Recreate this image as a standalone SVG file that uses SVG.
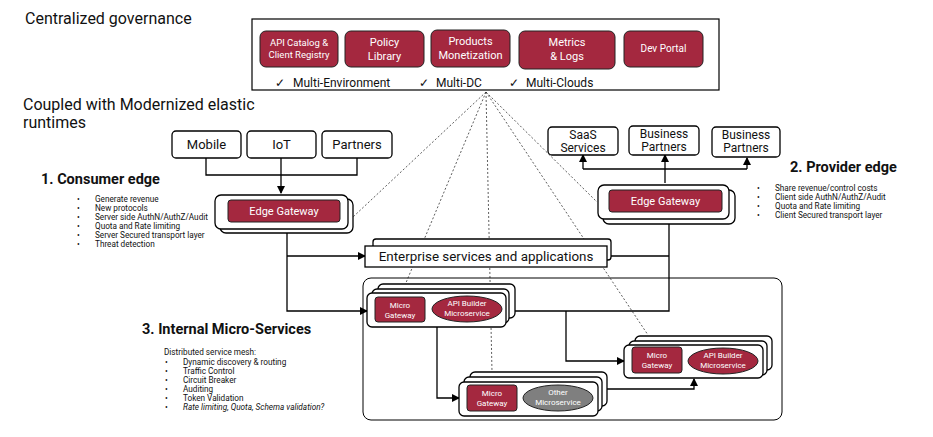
<svg xmlns="http://www.w3.org/2000/svg" width="933" height="437" viewBox="0 0 933 437">
<defs>
<marker id="ah" markerWidth="8" markerHeight="8" refX="7" refY="4" orient="auto" markerUnits="userSpaceOnUse">
<path d="M0,0 L8,4 L0,8 Z" fill="#000"/>
</marker>
<style>
text{font-family:Roboto,"Liberation Sans",sans-serif;}
.red{fill:#A4283F;stroke:#222;stroke-width:1;}
.wb{fill:#fff;stroke:#000;stroke-width:1.3;}
.wt{fill:#fff;}
.ln{fill:none;stroke:#000;stroke-width:1.3;}
.dash{fill:none;stroke:#333;stroke-width:0.8;stroke-dasharray:2,2;}
.h1{font-size:16px;fill:#111;}
.h2{font-size:14.5px;font-weight:bold;fill:#111;}
.sm text{font-size:8.2px;fill:#111;}
.ck{font-size:12px;fill:#111;}
</style>
</defs>
<rect width="933" height="437" fill="#fff"/>

<!-- headings -->
<text class="h1" x="25" y="24">Centralized governance</text>
<text class="h1" x="23" y="110">Coupled with Modernized elastic</text>
<text class="h1" x="23" y="128">runtimes</text>

<!-- dashed lines (behind) -->
<g id="dashed">
<line class="dash" x1="486" y1="92" x2="353" y2="217"/>
<line class="dash" x1="486" y1="92" x2="400" y2="297"/>
<line class="dash" x1="486" y1="92" x2="492" y2="372"/>
<line class="dash" x1="486" y1="92" x2="648" y2="335"/>
<line class="dash" x1="486" y1="92" x2="597" y2="202"/>
</g>

<!-- governance -->
<g id="governance">
<rect x="252" y="19" width="467" height="71" fill="#fff" stroke="#000" stroke-width="1.2"/>
<g id="api-catalog"><rect class="red" x="260" y="31" width="78" height="36" rx="6"/>
<text class="wt" x="299" y="46" font-size="9.5" text-anchor="middle">API Catalog &amp;</text>
<text class="wt" x="299" y="58" font-size="9.5" text-anchor="middle">Client Registry</text></g>
<g id="policy-library"><rect class="red" x="345" y="31" width="79" height="36" rx="6"/>
<text class="wt" x="384.5" y="46" font-size="11" text-anchor="middle">Policy</text>
<text class="wt" x="384.5" y="60" font-size="11" text-anchor="middle">Library</text></g>
<g id="products"><rect class="red" x="431" y="30" width="79" height="37" rx="6"/>
<text class="wt" x="470.5" y="45" font-size="11" text-anchor="middle">Products</text>
<text class="wt" x="470.5" y="59" font-size="11" text-anchor="middle">Monetization</text></g>
<g id="metrics"><rect class="red" x="519" y="31" width="96" height="38" rx="6"/>
<text class="wt" x="567" y="46" font-size="11" text-anchor="middle">Metrics</text>
<text class="wt" x="567" y="60" font-size="11" text-anchor="middle">&amp; Logs</text></g>
<g id="dev-portal"><rect class="red" x="624" y="31" width="79" height="36" rx="6"/>
<text class="wt" x="663.5" y="52" font-size="10" text-anchor="middle">Dev Portal</text></g>
<text class="ck" x="275" y="87">✓</text><text class="ck" x="293" y="87">Multi-Environment</text>
<text class="ck" x="419" y="87">✓</text><text class="ck" x="436" y="87">Multi-DC</text>
<text class="ck" x="509" y="87">✓</text><text class="ck" x="526" y="87">Multi-Clouds</text>
</g>

<!-- connectors -->
<g id="connectors">
<path class="ln" d="M206,158 V175 H357 V158"/>
<path class="ln" d="M281,158 V193" marker-end="url(#ah)"/>
<path class="ln" d="M287,233 V311 H367" marker-end="url(#ah)"/>
<path class="ln" d="M287,256 H365" marker-end="url(#ah)"/>
<path class="ln" d="M611,256 H669"/>
<path class="ln" d="M669,223 V311 H513"/>
<path class="ln" d="M665,183 V155" marker-end="url(#ah)"/>
<path class="ln" d="M583,169 H747"/>
<path class="ln" d="M583,169 V155" marker-end="url(#ah)"/>
<path class="ln" d="M747,169 V158" marker-end="url(#ah)"/>
<path class="ln" d="M566,311 V361 H624" marker-end="url(#ah)"/>
<path class="ln" d="M437,327 V398 H459" marker-end="url(#ah)"/>
<path class="ln" d="M607,389 H694 V379" marker-end="url(#ah)"/>
</g>

<!-- consumer side -->
<g id="mobile"><rect class="wb" x="172" y="131" width="69" height="27" rx="4"/>
<text x="206.5" y="149" font-size="13" text-anchor="middle" fill="#111">Mobile</text></g>
<g id="iot"><rect class="wb" x="247" y="131" width="69" height="27" rx="4"/>
<text x="281.5" y="149" font-size="13" text-anchor="middle" fill="#111">IoT</text></g>
<g id="partners"><rect class="wb" x="322" y="131" width="70" height="27" rx="4"/>
<text x="357" y="149" font-size="13" text-anchor="middle" fill="#111">Partners</text></g>

<g id="consumer-gateway">
<rect class="wb" x="220" y="199" width="133" height="34" rx="6"/>
<rect class="wb" x="215" y="195" width="133" height="34" rx="6"/>
<rect class="red" x="228" y="200" width="112" height="22" rx="3"/>
<text class="wt" x="284" y="215" font-size="11" text-anchor="middle">Edge Gateway</text>
</g>

<g id="consumer-text">
<text class="h2" x="41" y="184">1. Consumer edge</text>
<g class="sm">
<text x="77" y="202">•</text><text x="95" y="202">Generate revenue</text>
<text x="77" y="211">•</text><text x="95" y="211">New protocols</text>
<text x="77" y="220">•</text><text x="95" y="220">Server side AuthN/AuthZ/Audit</text>
<text x="77" y="229">•</text><text x="95" y="229">Quota and Rate limiting</text>
<text x="77" y="238">•</text><text x="95" y="238">Server Secured transport layer</text>
<text x="77" y="247">•</text><text x="95" y="247">Threat detection</text>
</g>
</g>

<!-- provider side -->
<g id="saas"><rect class="wb" x="548" y="127" width="70" height="28" rx="4"/>
<text x="583" y="139" font-size="12" text-anchor="middle" fill="#111">SaaS</text>
<text x="583" y="152" font-size="12" text-anchor="middle" fill="#111">Services</text></g>
<g id="business-partners-1"><rect class="wb" x="629" y="126" width="70" height="29" rx="4"/>
<text x="664" y="138" font-size="12" text-anchor="middle" fill="#111">Business</text>
<text x="664" y="151" font-size="12" text-anchor="middle" fill="#111">Partners</text></g>
<g id="business-partners-2"><rect class="wb" x="712" y="127" width="68" height="30" rx="4"/>
<text x="746" y="139" font-size="12" text-anchor="middle" fill="#111">Business</text>
<text x="746" y="152" font-size="12" text-anchor="middle" fill="#111">Partners</text></g>

<g id="provider-gateway">
<rect class="wb" x="603" y="190" width="132" height="34" rx="6"/>
<rect class="wb" x="598" y="185" width="131" height="34" rx="6"/>
<rect class="red" x="609" y="190" width="113" height="22" rx="3"/>
<text class="wt" x="665.5" y="205" font-size="11" text-anchor="middle">Edge Gateway</text>
</g>

<g id="provider-text">
<text class="h2" x="790" y="172">2. Provider edge</text>
<g class="sm">
<text x="757" y="191">•</text><text x="775" y="191">Share revenue/control costs</text>
<text x="757" y="200">•</text><text x="775" y="200">Client side AuthN/AuthZ/Audit</text>
<text x="757" y="209">•</text><text x="775" y="209">Quota and Rate limiting</text>
<text x="757" y="218">•</text><text x="775" y="218">Client Secured transport layer</text>
</g>
</g>

<!-- enterprise -->
<g id="enterprise">
<rect class="wb" x="373" y="239" width="238" height="21" rx="3"/>
<rect class="wb" x="365" y="246" width="242" height="21"/>
<text x="486" y="261" font-size="13.4" text-anchor="middle" fill="#111">Enterprise services and applications</text>
</g>

<!-- internal area -->
<g id="internal">
<rect x="363" y="278" width="419" height="142" rx="8" fill="none" stroke="#000" stroke-width="1"/>
</g>

<g id="ms-group-1">
<rect class="wb" x="378" y="284" width="137" height="34" rx="5"/>
<rect class="wb" x="372" y="289" width="137" height="34" rx="5"/>
<rect class="wb" x="367" y="293" width="139" height="34" rx="5"/>
<rect class="red" x="375" y="297" width="50" height="25" rx="3"/>
<text class="wt" x="400" y="308" font-size="8" text-anchor="middle">Micro</text>
<text class="wt" x="400" y="318" font-size="8" text-anchor="middle">Gateway</text>
<ellipse class="red" cx="467" cy="309" rx="35" ry="13"/>
<text class="wt" x="467" y="306" font-size="8" text-anchor="middle">API Builder</text>
<text class="wt" x="467" y="316" font-size="8" text-anchor="middle">Microservice</text>
</g>

<g id="ms-group-2">
<rect class="wb" x="635" y="336" width="137" height="34" rx="5"/>
<rect class="wb" x="629" y="341" width="138" height="34" rx="5"/>
<rect class="wb" x="624" y="345" width="139" height="33" rx="5"/>
<rect class="red" x="632" y="347" width="50" height="26" rx="3"/>
<text class="wt" x="657" y="358" font-size="8" text-anchor="middle">Micro</text>
<text class="wt" x="657" y="368" font-size="8" text-anchor="middle">Gateway</text>
<ellipse class="red" cx="723" cy="361" rx="35" ry="13"/>
<text class="wt" x="723" y="358" font-size="8" text-anchor="middle">API Builder</text>
<text class="wt" x="723" y="368" font-size="8" text-anchor="middle">Microservice</text>
</g>

<g id="ms-group-3">
<rect class="wb" x="470" y="372" width="137" height="34" rx="5"/>
<rect class="wb" x="464" y="377" width="138" height="34" rx="5"/>
<rect class="wb" x="459" y="382" width="139" height="34" rx="5"/>
<rect class="red" x="467" y="385" width="50" height="26" rx="3"/>
<text class="wt" x="492" y="396" font-size="8" text-anchor="middle">Micro</text>
<text class="wt" x="492" y="406" font-size="8" text-anchor="middle">Gateway</text>
<ellipse cx="558" cy="398" rx="35" ry="13" fill="#7F7F7F" stroke="#222" stroke-width="1"/>
<text class="wt" x="558" y="395" font-size="8" text-anchor="middle">Other</text>
<text class="wt" x="558" y="405" font-size="8" text-anchor="middle">Microservice</text>
</g>

<g id="internal-text">
<text class="h2" x="142" y="334">3. Internal Micro-Services</text>
<g class="sm">
<text x="164" y="355">Distributed service mesh:</text>
<text x="165" y="365">•</text><text x="183" y="365">Dynamic discovery &amp; routing</text>
<text x="165" y="374">•</text><text x="183" y="374">Traffic Control</text>
<text x="165" y="383">•</text><text x="183" y="383">Circuit Breaker</text>
<text x="165" y="392">•</text><text x="183" y="392">Auditing</text>
<text x="165" y="401">•</text><text x="183" y="401">Token Validation</text>
<text x="165" y="410">•</text><text x="183" y="410" font-style="italic">Rate limiting, Quota, Schema validation?</text>
</g>
</g>
</svg>
